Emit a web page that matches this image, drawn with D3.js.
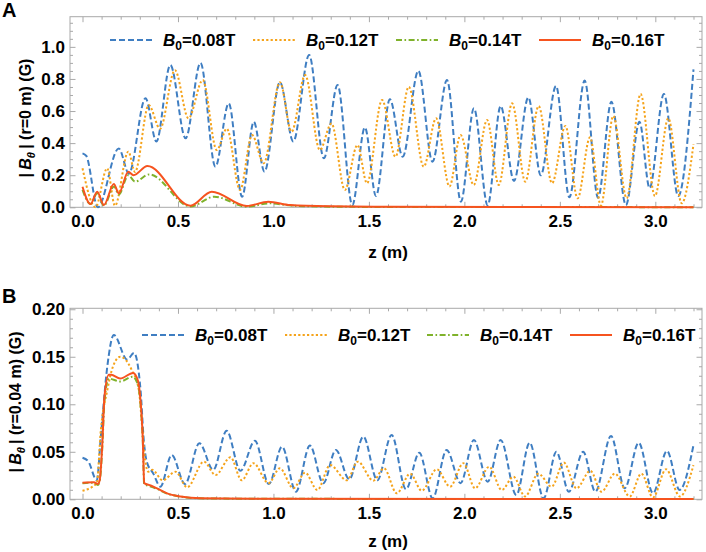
<html>
<head>
  <meta charset="utf-8" />
  <script src="https://cdnjs.cloudflare.com/ajax/libs/d3/7.8.5/d3.min.js"></script>
  <style>
    body { margin: 0; background: #fff; }
    svg text { font-family: "Liberation Sans", Arial, sans-serif; font-weight: bold; fill: #000; }
  </style>
</head>
<body>
  <svg width="706" height="552"></svg>
  <script>

  // legend labels and styles per field strength
  var fields = ["0.08", "0.12", "0.14", "0.16"];
  var colors = ["#3f7ec2", "#f5a31a", "#7fb22b", "#f6531f"];
  var dashes = ["6,3", "2.2,2.2", "6,2.5,1.6,2.5", null];

  var blueA = [[0,0.336],[0.02,0.32],[0.08,0],[0.19,0.367],[0.243,0.21],[0.33,0.68],[0.387,0.41],[0.46,0.887],[0.54,0.43],[0.618,0.90],[0.696,0.253],[0.766,0.648],[0.836,0.066],[0.897,0.533],[0.953,0.222],[1.034,0.78],[1.104,0.41],[1.187,0.95],[1.264,0.305],[1.336,0.762],[1.413,0.014],[1.479,0.498],[1.537,0.07],[1.61,0.673],[1.677,0.315],[1.759,0.851],[1.833,0.284],[1.909,0.793],[1.982,0.035],[2.05,0.617],[2.122,0.012],[2.19,0.631],[2.26,0.164],[2.335,0.685],[2.40,0.2],[2.48,0.756],[2.55,0.062],[2.63,0.79],[2.70,0.06],[2.77,0.658],[2.846,0.014],[2.917,0.533],[2.97,0.12],[3.045,0.706],[3.12,0.07],[3.2,0.86]];
  var orangeA = [[0,0.243],[0.068,0],[0.129,0.243],[0.17,0.01],[0.24,0.347],[0.275,0.22],[0.347,0.637],[0.406,0.49],[0.484,0.855],[0.555,0.555],[0.63,0.793],[0.703,0.357],[0.756,0.49],[0.825,0.108],[0.888,0.45],[0.949,0.274],[1.034,0.78],[1.095,0.471],[1.166,0.824],[1.243,0.357],[1.304,0.523],[1.374,0.108],[1.44,0.388],[1.49,0.15],[1.569,0.669],[1.639,0.315],[1.709,0.751],[1.787,0.253],[1.852,0.555],[1.922,0.13],[1.98,0.45],[2.049,0.139],[2.119,0.544],[2.18,0.139],[2.25,0.648],[2.319,0.16],[2.389,0.631],[2.459,0.15],[2.529,0.507],[2.593,0.056],[2.658,0.436],[2.715,0.01],[2.78,0.569],[2.85,0.056],[2.923,0.706],[2.998,0.07],[3.068,0.555],[3.138,0.025],[3.2,0.394]];
  var greenA = [[0,0.108],[0.042,0.02],[0.077,0.088],[0.112,0.01],[0.165,0.13],[0.19,0.08],[0.24,0.2],[0.275,0.16],[0.35,0.205],[0.565,0.005],[0.69,0.066],[0.86,0.004],[0.98,0.025],[1.1,0.01],[1.3,0.004],[1.6,0.002],[3.2,0.001]];
  var redA = [[0,0.128],[0.042,0.02],[0.077,0.097],[0.112,0.014],[0.164,0.145],[0.19,0.087],[0.24,0.222],[0.267,0.2],[0.34,0.257],[0.565,0.01],[0.677,0.097],[0.86,0.008],[0.973,0.035],[1.088,0.014],[1.3,0.006],[1.6,0.003],[3.2,0.001]];

  // panel B: |B_theta| at r = 0.04 m
  var blueB = [[0,0.0438],[0.03,0.04],[0.075,0.02],[0.096,0.066],[0.13,0.14],[0.164,0.173],[0.234,0.147],[0.27,0.154],[0.304,0.115],[0.321,0.062],[0.336,0.04],[0.371,0.027],[0.408,0.0133],[0.467,0.0466],[0.537,0.016],[0.612,0.059],[0.685,0.031],[0.755,0.0722],[0.827,0.03],[0.903,0.0617],[0.976,0.016],[1.045,0.0554],[1.118,0.008],[1.191,0.0565],[1.261,0.0168],[1.327,0.052],[1.397,0.021],[1.471,0.066],[1.544,0.02],[1.619,0.0677],[1.694,0.0105],[1.764,0.049],[1.834,0.001],[1.907,0.052],[1.98,0.017],[2.05,0.0624],[2.122,0.0185],[2.19,0.0624],[2.272,0.0045],[2.342,0.0596],[2.415,0.001],[2.482,0.05],[2.547,0.008],[2.622,0.05],[2.686,0.008],[2.768,0.0666],[2.84,0.0116],[2.913,0.0596],[2.988,0.0063],[3.061,0.051],[3.127,0.0098],[3.2,0.057]];
  var orangeB = [[0,0.009],[0.075,0.017],[0.096,0.073],[0.13,0.115],[0.16,0.14],[0.198,0.15],[0.258,0.136],[0.295,0.115],[0.31,0.083],[0.328,0.041],[0.345,0.029],[0.365,0.031],[0.42,0.02],[0.487,0.029],[0.548,0.0126],[0.636,0.0396],[0.697,0.0256],[0.775,0.0442],[0.834,0.02],[0.895,0.038],[0.974,0.017],[1.034,0.0326],[1.104,0.0116],[1.166,0.028],[1.23,0.0098],[1.297,0.036],[1.384,0.02],[1.442,0.0396],[1.523,0.0196],[1.579,0.0326],[1.646,0.0063],[1.716,0.027],[1.777,0.009],[1.855,0.0316],[1.925,0.0133],[1.995,0.038],[2.056,0.0116],[2.13,0.0343],[2.196,0.0098],[2.257,0.0238],[2.318,0.003],[2.387,0.027],[2.457,0.0133],[2.521,0.0386],[2.587,0.0116],[2.66,0.03],[2.718,0.008],[2.788,0.027],[2.866,0.003],[2.927,0.027],[2.988,0.002],[3.056,0.0316],[3.129,0.003],[3.2,0.036]];
  var greenB = [[0,0.017],[0.06,0.0175],[0.08,0.015],[0.09,0.019],[0.103,0.052],[0.115,0.103],[0.138,0.127],[0.197,0.124],[0.262,0.129],[0.29,0.121],[0.302,0.104],[0.316,0.06],[0.323,0.016],[0.357,0.0135],[0.39,0.011],[0.443,0.006],[0.513,0.0028],[0.62,0.001],[1.0,0.0005],[3.2,0.0003]];
  var redB = [[0,0.0175],[0.06,0.018],[0.08,0.016],[0.09,0.02],[0.103,0.055],[0.115,0.108],[0.138,0.131],[0.15,0.131],[0.197,0.127],[0.265,0.133],[0.29,0.125],[0.302,0.108],[0.316,0.062],[0.323,0.017],[0.357,0.0145],[0.39,0.0115],[0.443,0.0063],[0.513,0.003],[0.62,0.001],[1.0,0.0005],[3.2,0.0003]];

  var xMajor = [0, 0.5, 1.0, 1.5, 2.0, 2.5, 3.0];
  var yMajorA = [0, 0.2, 0.4, 0.6, 0.8, 1.0];
  var yMajorB = [0, 0.05, 0.10, 0.15, 0.20];

  var svg = d3.select("svg");
  var frameL = 70, frameR = 702;
  var x = d3.scaleLinear().domain([0, 3.2]).range([82.5, 693.5]);
  var xMinor = d3.range(1, 33).map(i => i / 10).filter(v => Math.round(v * 10) % 5 != 0);

  var panels = [
    { letter: "A", top: 16.7, bottom: 207.3, ymax: 1.188, yMajor: yMajorA,
      yMinor: d3.range(1, 24).map(i => i * 0.05).filter(v => Math.round(v * 20) % 4 != 0),
      fmt: ".1f", series: [blueA, orangeA, greenA, redA], radius: "r=0 m",
      titleX: 31, titleY: 118, legX: [110, 253, 396, 539], legY: 40, legLen: 42,
      xLabelY: 258, letterY: 17 },
    { letter: "B", top: 308.3, bottom: 499.3, ymax: 0.201, yMajor: yMajorB,
      yMinor: d3.range(1, 20).map(i => i * 0.01).filter(v => Math.round(v * 100) % 5 != 0),
      fmt: ".2f", series: [blueB, orangeB, greenB, redB], radius: "r=0.04 m",
      titleX: 21, titleY: 402, legX: [142, 285, 427, 570], legY: 335, legLen: 42,
      xLabelY: 547, letterY: 303 }
  ];

  panels.forEach(p => drawPanel(p));

  function drawPanel(p) {
    var y = d3.scaleLinear().domain([0, p.ymax]).range([p.bottom, p.top]);
    var g = svg.append("g");
    var gray = "#a9a9a9";

    // frame
    g.append("rect")
      .attr("x", frameL).attr("y", p.top)
      .attr("width", frameR - frameL).attr("height", p.bottom - p.top)
      .attr("fill", "none").attr("stroke", gray).attr("stroke-width", 1);

    function tickAxis(axis, tx, ty, vals, len, fmt, pad) {
      var a = g.append("g").attr("transform", "translate(" + tx + "," + ty + ")")
        .call(axis.tickValues(vals).tickSize(-len).tickSizeOuter(0).tickPadding(pad || 0)
          .tickFormat(fmt ? d3.format(fmt) : ""));
      a.select(".domain").remove();
      a.selectAll("line").attr("stroke", gray);
      a.selectAll("text").attr("font-size", 17).attr("font-family", null);
      return a;
    }

    tickAxis(d3.axisBottom(x), 0, p.bottom, xMajor, 5.5, ".1f", 8);
    tickAxis(d3.axisBottom(x), 0, p.bottom, xMinor, 3);
    tickAxis(d3.axisTop(x), 0, p.top, xMajor, 5.5);
    tickAxis(d3.axisTop(x), 0, p.top, xMinor, 3);
    tickAxis(d3.axisLeft(y), frameL, 0, p.yMajor, 5.5, p.fmt, 5);
    tickAxis(d3.axisLeft(y), frameL, 0, p.yMinor, 3);
    tickAxis(d3.axisRight(y), frameR, 0, p.yMajor, 5.5);
    tickAxis(d3.axisRight(y), frameR, 0, p.yMinor, 3);

    // curves
    var line = d3.line().x(d => x(d[0])).y(d => y(d[1])).curve(d3.curveMonotoneX);
    p.series.forEach((s, i) => {
      g.append("path")
        .attr("d", line(s))
        .attr("fill", "none")
        .attr("stroke", colors[i])
        .attr("stroke-width", 2)
        .attr("stroke-dasharray", dashes[i]);
    });

    // legend
    fields.forEach((f, i) => {
      var lx = p.legX[i];
      g.append("line")
        .attr("x1", lx).attr("x2", lx + p.legLen)
        .attr("y1", p.legY).attr("y2", p.legY)
        .attr("stroke", colors[i]).attr("stroke-width", 2)
        .attr("stroke-dasharray", dashes[i]);
      var t = g.append("text").attr("x", lx + p.legLen + 11).attr("y", p.legY + 6.3)
        .attr("font-size", 17);
      t.append("tspan").attr("font-style", "italic").text("B");
      t.append("tspan").attr("dy", 4).attr("font-size", 12).text("0");
      t.append("tspan").attr("dy", -4).text("=" + f + "T");
    });

    // axis titles
    g.append("text")
      .attr("x", (frameL + frameR) / 2 + 2).attr("y", p.xLabelY)
      .attr("text-anchor", "middle").attr("font-size", 17)
      .text("z (m)");

    var yt = g.append("text")
      .attr("transform", "translate(" + p.titleX + "," + p.titleY + ") rotate(-90)")
      .attr("text-anchor", "middle").attr("font-size", 16);
    yt.append("tspan").text("|\u2009");
    yt.append("tspan").attr("font-style", "italic").text("B");
    yt.append("tspan").attr("font-style", "italic").attr("font-size", 11).attr("dy", 4).text("\u03b8");
    yt.append("tspan").attr("dy", -4).text("\u2009| (" + p.radius + ") (G)");

    g.append("text").attr("x", 2).attr("y", p.letterY)
      .attr("font-size", 20).text(p.letter);
  }

  </script>
</body>
</html>
